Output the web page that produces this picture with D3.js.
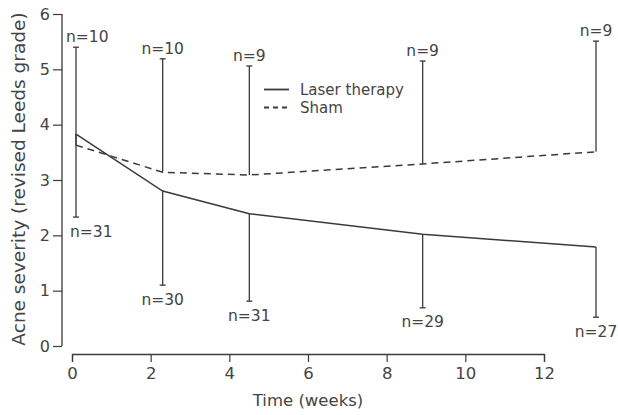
<!DOCTYPE html>
<html>
<head>
<meta charset="utf-8">
<script src="https://cdn.jsdelivr.net/npm/d3@7/dist/d3.min.js"></script>
<style>
  html, body { margin: 0; padding: 0; background: #fff; }
  svg { display: block; }
  text { font-family: "DejaVu Sans", sans-serif; fill: #444; }
</style>
</head>
<body>
<svg id="chart" width="618" height="415"></svg>
<script>
// ---- data ----
const weeks      = [0, 2, 4, 8, 12];
const laser      = [3.83, 2.80, 2.39, 2.02, 1.79];
const sham       = [3.63, 3.14, 3.09, 3.29, 3.51];
const laserLower = [2.33, 1.10, 0.81, 0.69, 0.52];
const shamUpper  = [5.40, 5.19, 5.06, 5.15, 5.51];
const laserN     = [31, 30, 31, 29, 27];
const shamN      = [10, 10, 9, 9, 9];
const xTicks     = [0, 2, 4, 6, 8, 10, 12];
const yTicks     = [0, 1, 2, 3, 4, 5, 6];
const seriesNames = ["Laser therapy", "Sham"];

const svg = d3.select("#chart");
const lineColor = "#3a3a3a";

// scales
const y = d3.scaleLinear().domain([0, 6]).range([346, 14]);
const xAxisScale = d3.scaleLinear().domain([0, 12]).range([72, 544]);
const x = d3.scaleLinear().domain([0, 12]).range([76, 596]);

// y axis
const yAxis = svg.append("g")
  .attr("transform", "translate(62,0)")
  .call(d3.axisLeft(y).tickValues(yTicks).tickFormat(d3.format("d")).tickSize(9).tickPadding(3));
yAxis.select(".domain").attr("stroke", lineColor).attr("stroke-width", 1.3)
  .attr("d", "M0,14V346");
yAxis.selectAll(".tick line").attr("stroke", lineColor).attr("stroke-width", 1.2);
yAxis.selectAll(".tick text").style("font-size", "16px").attr("fill", "#444");

// x axis
const xAxis = svg.append("g")
  .attr("transform", "translate(0,354)")
  .call(d3.axisBottom(xAxisScale).tickValues(xTicks).tickFormat(d3.format("d")).tickSizeInner(8).tickSizeOuter(8).tickPadding(5));
xAxis.select(".domain").attr("stroke", lineColor).attr("stroke-width", 1.3);
xAxis.selectAll(".tick line").attr("stroke", lineColor).attr("stroke-width", 1.2);
xAxis.selectAll(".tick text").style("font-size", "16.5px").attr("fill", "#444");

// axis titles
svg.append("text")
  .attr("x", (xAxisScale(0) + xAxisScale(12)) / 2)
  .attr("y", 406)
  .attr("text-anchor", "middle")
  .style("font-size", "16.5px")
  .text("Time (weeks)");

svg.append("text")
  .attr("transform", "translate(25,179) rotate(-90)")
  .attr("text-anchor", "middle")
  .style("font-size", "18.5px")
  .text("Acne severity (revised Leeds grade)");

const pts = weeks.map((w, i) => ({w, laser: laser[i], sham: sham[i], lo: laserLower[i], hi: shamUpper[i], ln: laserN[i], sn: shamN[i], i}));

// error bars
const capW = 3;
pts.forEach(p => {
  const g = svg.append("g").attr("stroke", lineColor).attr("stroke-width", 1.3);
  g.append("line").attr("x1", x(p.w)).attr("x2", x(p.w)).attr("y1", y(p.sham)).attr("y2", y(p.hi));
  g.append("line").attr("x1", x(p.w) - capW).attr("x2", x(p.w) + capW).attr("y1", y(p.hi)).attr("y2", y(p.hi));
  g.append("line").attr("x1", x(p.w)).attr("x2", x(p.w)).attr("y1", y(p.laser)).attr("y2", y(p.lo));
  g.append("line").attr("x1", x(p.w) - capW).attr("x2", x(p.w) + capW).attr("y1", y(p.lo)).attr("y2", y(p.lo));
});

// lines
const lineL = d3.line().x(d => x(d.w)).y(d => y(d.laser));
const lineS = d3.line().x(d => x(d.w)).y(d => y(d.sham));
svg.append("path").datum(pts).attr("d", lineL)
  .attr("fill", "none").attr("stroke", lineColor).attr("stroke-width", 1.5);
svg.append("path").datum(pts).attr("d", lineS)
  .attr("fill", "none").attr("stroke", lineColor).attr("stroke-width", 1.5)
  .attr("stroke-dasharray", "7,5");

// n labels
pts.forEach(p => {
  const first = p.i === 0;
  svg.append("text")
    .attr("x", first ? x(p.w) - 10 : x(p.w))
    .attr("y", y(p.hi) - 5)
    .attr("text-anchor", first ? "start" : "middle")
    .style("font-size", "15.5px")
    .text("n=" + p.sn);
  svg.append("text")
    .attr("x", first ? x(p.w) - 6 : x(p.w))
    .attr("y", y(p.lo) + 19.5)
    .attr("text-anchor", first ? "start" : "middle")
    .style("font-size", "15.5px")
    .text("n=" + p.ln);
});

// legend
const leg = svg.append("g");
leg.append("line").attr("x1", 264).attr("x2", 289).attr("y1", 89.5).attr("y2", 89.5)
  .attr("stroke", lineColor).attr("stroke-width", 1.8);
leg.append("line").attr("x1", 264).attr("x2", 289).attr("y1", 107.5).attr("y2", 107.5)
  .attr("stroke", lineColor).attr("stroke-width", 1.8).attr("stroke-dasharray", "5,4");
leg.append("text").attr("x", 300).attr("y", 94.5).style("font-size", "15px").text(seriesNames[0]);
leg.append("text").attr("x", 300).attr("y", 112.5).style("font-size", "15px").text(seriesNames[1]);
</script>
</body>
</html>
